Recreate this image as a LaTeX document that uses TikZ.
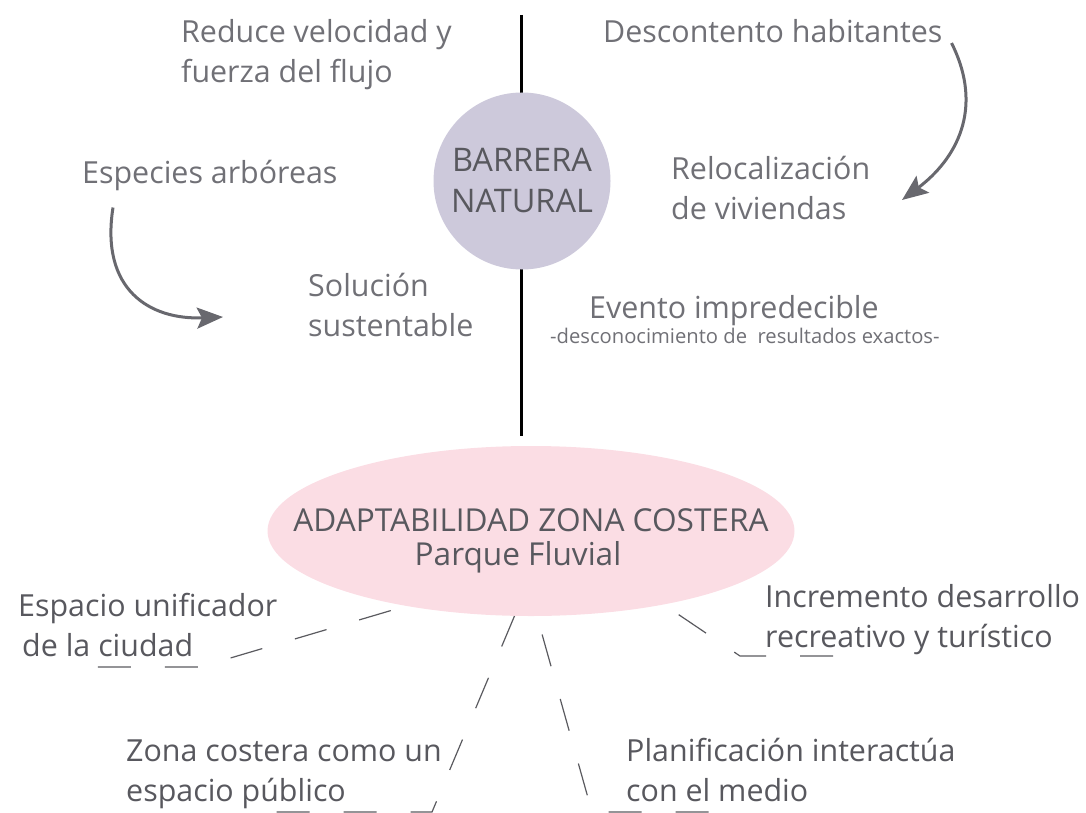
\documentclass[tikz,border=0pt]{standalone}
\usepackage{fontspec}
\setmainfont{Open Sans}
\usepackage{xcolor}
\definecolor{txtdark}{RGB}{88,88,94}
\definecolor{txtlight}{RGB}{112,112,118}
\definecolor{lilac}{RGB}{205,201,219}
\definecolor{rosa}{RGB}{251,221,228}
\definecolor{arrgray}{RGB}{104,104,110}
\definecolor{dashgray}{RGB}{90,90,95}
\usetikzlibrary{arrows.meta, shapes.geometric}

\begin{document}
\begin{tikzpicture}[
    x=1pt, y=-1pt,
    txt/.style={anchor=base west, align=left, inner sep=0pt,
        font=\fontsize{30.4}{40}\selectfont},
    top/.style={txt, text=txtlight},
    bot/.style={txt, text=txtdark},
    arr/.style={-{Stealth[length=26pt, width=21pt, inset=5pt]},
        line width=3pt, arrgray},
    dashln/.style={dashgray, line width=1.2pt,
        dash pattern=on 33pt off 34pt}
]
\useasboundingbox (0,0) rectangle (1086,813);

% --- eje vertical ---
\coordinate (vtop) at (521,15);
\coordinate (vbot) at (521,436);
\draw[line width=3pt, black] (vtop) -- (vbot);

% --- nodos centrales ---
\node[circle, fill=lilac, minimum size=177pt, inner sep=0pt,
    align=center, text=txtdark, font=\fontsize{32.5}{41}\selectfont]
    (barrera) at (522,181) {BARRERA\\NATURAL};
\node[ellipse, fill=rosa, minimum width=527pt, minimum height=170pt,
    inner sep=0pt] (ell) at (531,531) {};
\node[anchor=base, align=center, inner sep=0pt, text=txtdark,
    font=\fontsize{31.6}{34}\selectfont]
    (adapt) at (531,565) {ADAPTABILIDAD ZONA COSTERA\\Parque Fluvial\hspace*{26pt}};

% --- textos superiores ---
\node[top] (reduce) at (181,83)  {Reduce velocidad y\\fuerza del flujo};
\node[top] (desc)   at (603,43)  {Descontento habitantes};
\node[top] (esp)    at (82,183)  {Especies arbóreas};
\node[top] (reloc)  at (671,219) {Relocalización\\de viviendas};
\node[top] (sol)    at (308,336) {Solución\\sustentable};
\node[top] (evento) at (589,318) {Evento impredecible};
\node[anchor=base west, inner sep=0pt, text=txtlight,
    font=\fontsize{20.2}{22}\selectfont]
    (desco) at (550,343) {-desconocimiento de~ resultados exactos-};

% --- flechas ---
\coordinate (solin) at (223,317);
\coordinate (relin) at (902,200);
\draw[arr] ([xshift=31pt, yshift=-17pt]esp.south west)
    .. controls (100,290) and (150,320) .. (solin);
\draw[arr] ([xshift=9pt]desc.base east)
    .. controls (985,110) and (955,160) .. (relin);

% --- textos inferiores ---
\node[bot] (unif)  at (18,656)  {Espacio unificador\\\hspace*{4pt}de la ciudad};
\node[bot] (incr)  at (765,647) {Incremento desarrollo\\recreativo y turístico};
\node[bot] (zona)  at (126,801) {Zona costera como un\\espacio público};
\node[bot] (plan)  at (626,801) {Planificación interactúa\\con el medio};

% --- conectores discontinuos ---
\coordinate (c1) at (200,667);  \coordinate (c1e) at (96,667);
\coordinate (c2) at (432,812);  \coordinate (c2e) at (272,812);
\coordinate (c3) at (592,812);  \coordinate (c3e) at (712,812);
\coordinate (c4) at (740,656);  \coordinate (c4e) at (840,656);
\draw[dashln, shorten <=16pt] (ell.211) -- (c1) -- (c1e);
\draw[dashln] (ell.259) -- (c2) -- (c2e);
\draw[dashln, shorten <=19pt] (ell.274) -- (c3) -- (c3e);
\draw[dashln, shorten <=18pt] (ell.331) -- (c4) -- (c4e);

\end{tikzpicture}
\end{document}
